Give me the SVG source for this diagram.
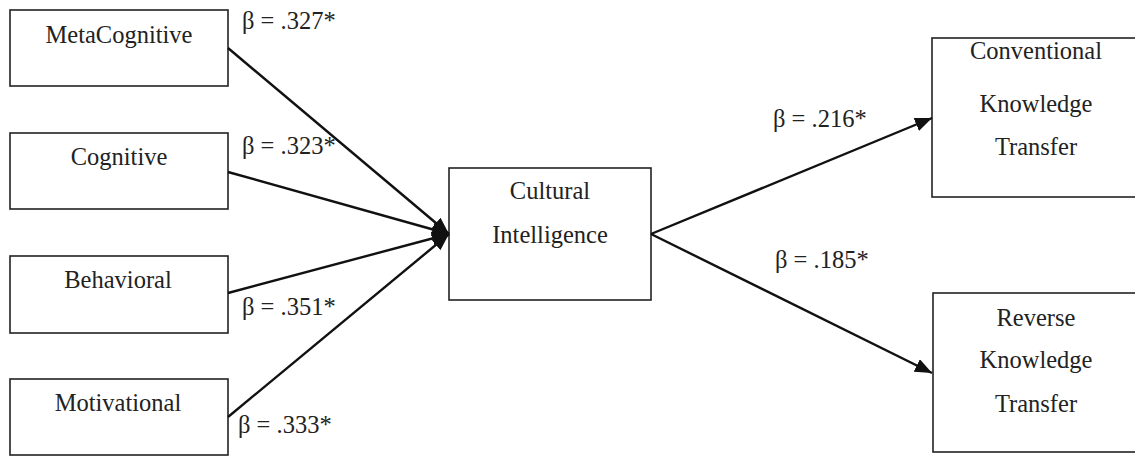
<svg xmlns="http://www.w3.org/2000/svg" width="1135" height="456" viewBox="0 0 1135 456">
<style>
.box{fill:#fff;stroke:#222;stroke-width:1.6}
text{font-family:'Liberation Serif','Times New Roman',Times,serif;font-size:24.5px;fill:#222}
.t{text-anchor:middle}
.c{stroke:#111;stroke-width:2.4;fill:none}
</style>
<defs>
<marker id="ah" markerUnits="userSpaceOnUse" markerWidth="18" markerHeight="14" refX="17" refY="7" orient="auto">
<path d="M0,0 L17,7 L0,14 Z" fill="#111"/>
</marker>
</defs>
<rect width="1135" height="456" fill="#fff"/>
<g id="metacognitive"><rect class="box" x="10" y="10" width="218" height="76"/><text class="t" x="119" y="43">MetaCognitive</text></g>
<g id="cognitive"><rect class="box" x="10" y="133" width="218" height="76"/><text class="t" x="119" y="165">Cognitive</text></g>
<g id="behavioral"><rect class="box" x="10" y="256" width="218" height="77"/><text class="t" x="118" y="288">Behavioral</text></g>
<g id="motivational"><rect class="box" x="10" y="379" width="218" height="76"/><text class="t" x="118" y="411">Motivational</text></g>
<g id="cultural"><rect class="box" x="449" y="168" width="202" height="132"/><text class="t" x="550" y="199">Cultural</text><text class="t" x="550" y="243">Intelligence</text></g>
<g id="conventional"><rect class="box" x="932" y="38" width="210" height="159"/><text class="t" x="1036" y="59">Conventional</text><text class="t" x="1036" y="112">Knowledge</text><text class="t" x="1036" y="155">Transfer</text></g>
<g id="reverse"><rect class="box" x="933" y="293" width="210" height="159"/><text class="t" x="1036" y="326">Reverse</text><text class="t" x="1036" y="368">Knowledge</text><text class="t" x="1036" y="412">Transfer</text></g>
<g id="connectors">
<line class="c" x1="228" y1="48" x2="449" y2="234" marker-end="url(#ah)"/>
<line class="c" x1="228" y1="172" x2="449" y2="234" marker-end="url(#ah)"/>
<line class="c" x1="228" y1="293" x2="449" y2="234" marker-end="url(#ah)"/>
<line class="c" x1="228" y1="417" x2="449" y2="234" marker-end="url(#ah)"/>
<line class="c" x1="651" y1="234" x2="932" y2="118" marker-end="url(#ah)"/>
<line class="c" x1="651" y1="234" x2="932" y2="373" marker-end="url(#ah)"/>
</g>
<g id="labels">
<text x="242" y="29">β = .327*</text>
<text x="242" y="154">β = .323*</text>
<text x="242" y="315">β = .351*</text>
<text x="238" y="433">β = .333*</text>
<text x="773" y="127">β = .216*</text>
<text x="775" y="268">β = .185*</text>
</g>
</svg>
